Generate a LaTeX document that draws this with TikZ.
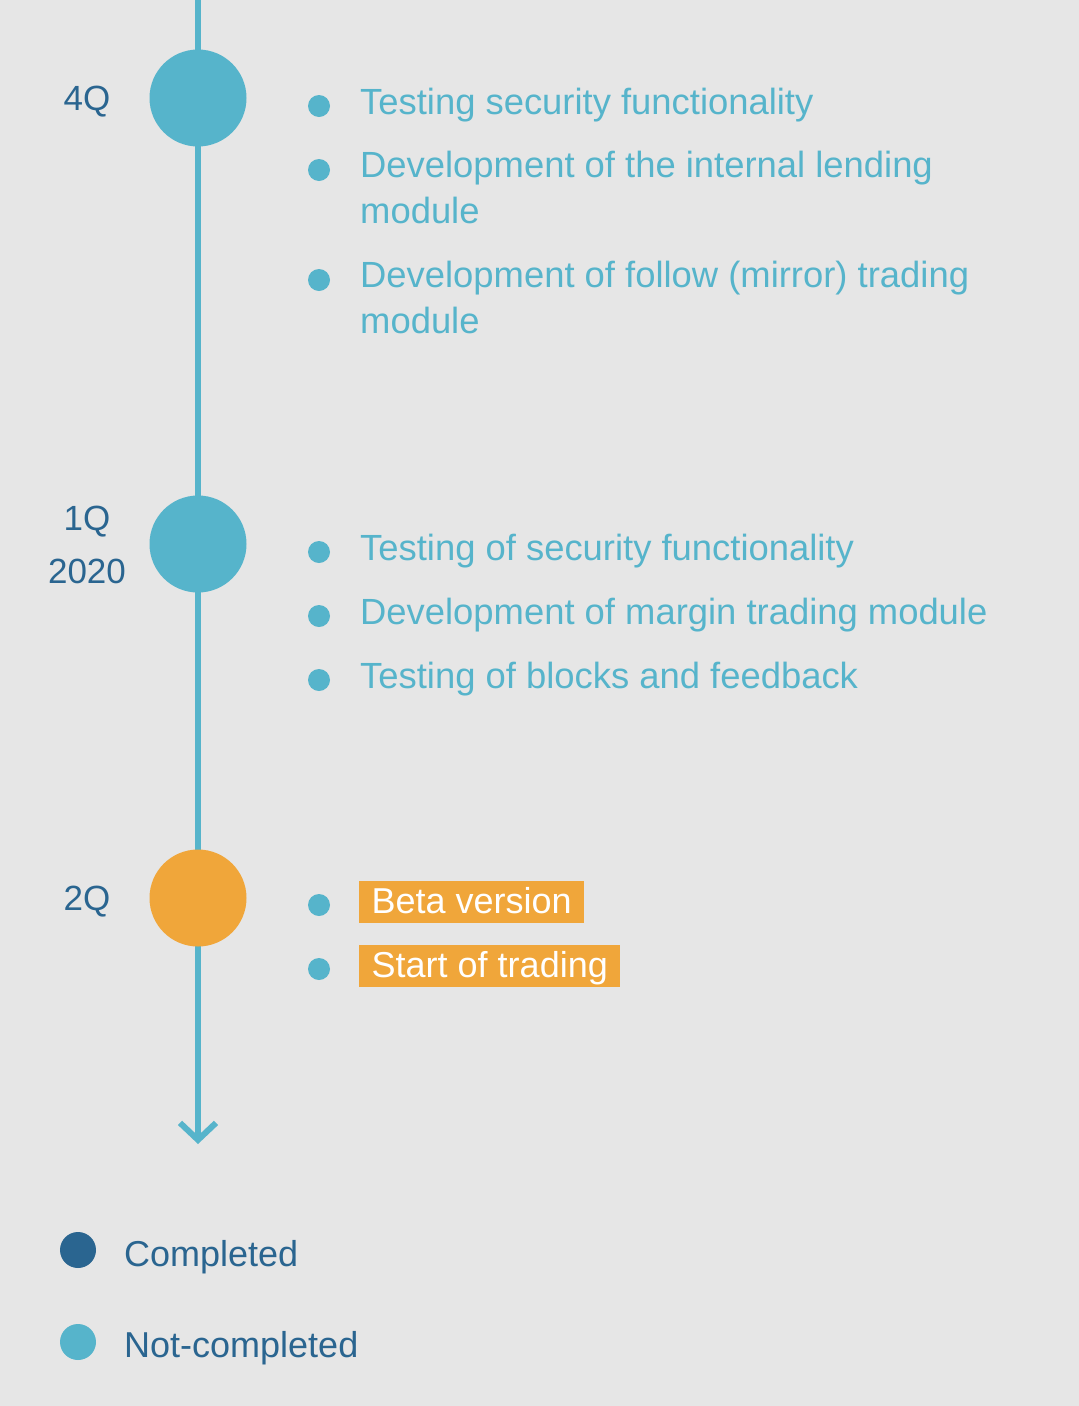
\documentclass[tikz,border=0pt]{standalone}
\usepackage{fontspec}
\setmainfont{Liberation Sans}
\usetikzlibrary{arrows.meta}
\definecolor{bg}{HTML}{E6E6E6}
\definecolor{lblue}{HTML}{56B4CB}
\definecolor{dblue}{HTML}{2A6590}
\definecolor{orng}{HTML}{F0A63A}
\begin{document}
\begin{tikzpicture}[x=1pt,y=-1pt,
  milestone/.style={circle,fill=#1,minimum size=97pt,inner sep=0pt},
  bulletdot/.style={circle,fill=lblue,minimum size=22pt,inner sep=0pt},
  legenddot/.style={circle,fill=#1,minimum size=36pt,inner sep=0pt},
  item/.style={anchor=base west,inner sep=0pt,text=lblue,font=\fontsize{36.4}{46}\selectfont,align=left},
  qlabel/.style={anchor=base,inner sep=0pt,text=dblue,font=\fontsize{35}{53}\selectfont,align=center},
  legendtext/.style={anchor=base west,inner sep=0pt,text=dblue,font=\fontsize{36}{46}\selectfont},
  hl/.style={anchor=base west,fill=orng,text=white,font=\fontsize{36}{46}\selectfont,inner xsep=12.5pt,inner ysep=0pt,text height=32pt,text depth=10pt},
  timeline/.style={draw=lblue,line width=6pt,-{Straight Barb[length=17pt,width=36pt]}}
]
\fill[bg] (0,0) rectangle (1079,1406);
\useasboundingbox (0,0) rectangle (1079,1406);
% timeline
\coordinate (top) at (198,0);
\coordinate (bottom) at (198,1144);
\draw[timeline] (top) -- (bottom);
\node[milestone=lblue] (m4q) at (198,98) {};
\node[milestone=lblue] (m1q) at (198,544) {};
\node[milestone=orng] (m2q) at (198,898) {};
% labels (base anchor of a multi-line node = last line's baseline)
\node[qlabel] (l4q) at (87,110) {4Q};
\node[qlabel] (l1q) at (87,583) {1Q\\2020};
\node[qlabel] (l2q) at (87,910) {2Q};
% 4Q items
\node[bulletdot] (b1) at (319,106) {};
\node[item] (t1) at (360,114) {Testing security functionality};
\node[bulletdot] (b2) at (319,170) {};
\node[item] (t2) at (360,223) {Development of the internal lending\\module};
\node[bulletdot] (b3) at (319,280) {};
\node[item] (t3) at (360,333) {Development of follow (mirror) trading\\module};
% 1Q items
\node[bulletdot] (b4) at (319,552) {};
\node[item] (t4) at (360,560) {Testing of security functionality};
\node[bulletdot] (b5) at (319,616) {};
\node[item] (t5) at (360,624) {Development of margin trading module};
\node[bulletdot] (b6) at (319,680) {};
\node[item] (t6) at (360,688) {Testing of blocks and feedback};
% 2Q items
\node[bulletdot] (b7) at (319,905) {};
\node[hl] (t7) at (359,913) {Beta version};
\node[bulletdot] (b8) at (319,969) {};
\node[hl] (t8) at (359,977) {Start of trading};
% legend
\node[legenddot=dblue] (lg1) at (78,1250) {};
\node[legendtext] (lt1) at (124,1266) {Completed};
\node[legenddot=lblue] (lg2) at (78,1342) {};
\node[legendtext] (lt2) at (124,1357) {Not-completed};
\end{tikzpicture}
\end{document}
